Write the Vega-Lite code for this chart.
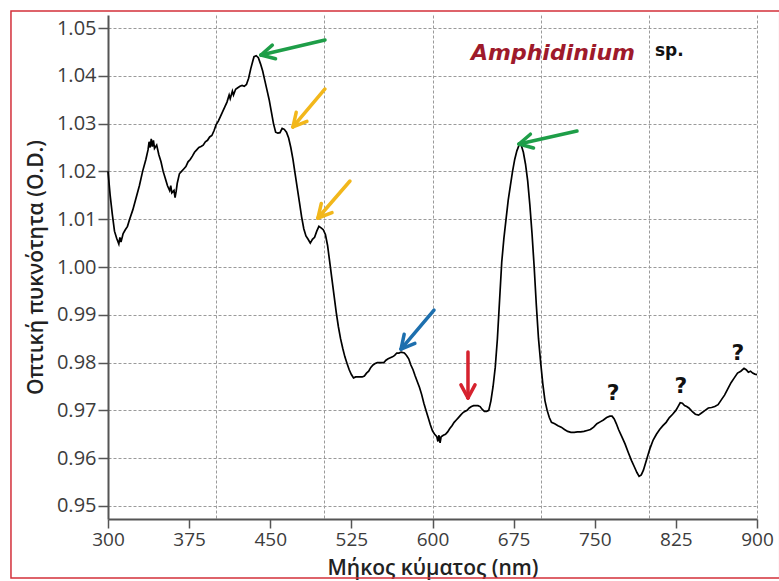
{
  "$schema": "https://vega.github.io/schema/vega-lite/v6.json",
  "width": 649,
  "height": 504,
  "autosize": {"type": "none"},
  "padding": {"left": 108, "top": 15, "right": 22, "bottom": 62},
  "background": "white",
  "config": {
    "view": {"stroke": null},
    "axis": {
      "labelFont": "Open Sans",
      "labelFontSize": 20,
      "labelColor": "#3c3c3c",
      "labelFlush": false,
      "labelOverlap": false,
      "titleFont": "Open Sans",
      "titleFontWeight": 600,
      "titleColor": "#222222",
      "tickColor": "#555555",
      "domainColor": "#555555",
      "domainWidth": 2,
      "tickWidth": 1.5,
      "tickSize": 9,
      "gridColor": "#9a9a9a",
      "gridDash": [3, 2],
      "gridWidth": 1
    }
  },
  "datasets": {
    "curve": [
      {"nm":300,"od":1.0200},{"nm":302,"od":1.0150},{"nm":304,"od":1.0110},{"nm":306,"od":1.0075},{"nm":308,"od":1.0060},{"nm":310,"od":1.0048},{"nm":311,"od":1.0062},{"nm":312,"od":1.0052},{"nm":314,"od":1.0070},{"nm":316,"od":1.0078},{"nm":318,"od":1.0085},{"nm":320,"od":1.0100},{"nm":323,"od":1.0120},{"nm":326,"od":1.0145},{"nm":329,"od":1.0170},{"nm":332,"od":1.0200},{"nm":335,"od":1.0225},{"nm":337,"od":1.0245},{"nm":338,"od":1.0262},{"nm":339,"od":1.0250},{"nm":340,"od":1.0268},{"nm":341,"od":1.0252},{"nm":342,"od":1.0265},{"nm":343,"od":1.0248},{"nm":345,"od":1.0255},{"nm":347,"od":1.0235},{"nm":349,"od":1.0220},{"nm":351,"od":1.0200},{"nm":353,"od":1.0185},{"nm":355,"od":1.0170},{"nm":357,"od":1.0160},{"nm":358,"od":1.0170},{"nm":359,"od":1.0155},{"nm":361,"od":1.0160},{"nm":362,"od":1.0145},{"nm":363,"od":1.0158},{"nm":364,"od":1.0175},{"nm":366,"od":1.0195},{"nm":368,"od":1.0200},{"nm":370,"od":1.0205},{"nm":372,"od":1.0210},{"nm":374,"od":1.0220},{"nm":376,"od":1.0225},{"nm":378,"od":1.0232},{"nm":380,"od":1.0240},{"nm":382,"od":1.0245},{"nm":384,"od":1.0250},{"nm":386,"od":1.0252},{"nm":388,"od":1.0255},{"nm":390,"od":1.0262},{"nm":392,"od":1.0265},{"nm":394,"od":1.0272},{"nm":396,"od":1.0275},{"nm":398,"od":1.0285},{"nm":400,"od":1.0298},{"nm":402,"od":1.0305},{"nm":404,"od":1.0315},{"nm":406,"od":1.0325},{"nm":408,"od":1.0335},{"nm":410,"od":1.0345},{"nm":412,"od":1.0360},{"nm":413,"od":1.0352},{"nm":415,"od":1.0368},{"nm":416,"od":1.0360},{"nm":418,"od":1.0372},{"nm":420,"od":1.0375},{"nm":422,"od":1.0378},{"nm":424,"od":1.0380},{"nm":426,"od":1.0378},{"nm":428,"od":1.0382},{"nm":430,"od":1.0395},{"nm":432,"od":1.0415},{"nm":434,"od":1.0432},{"nm":435,"od":1.0440},{"nm":437,"od":1.0442},{"nm":439,"od":1.0438},{"nm":441,"od":1.0425},{"nm":443,"od":1.0410},{"nm":445,"od":1.0390},{"nm":447,"od":1.0370},{"nm":449,"od":1.0350},{"nm":451,"od":1.0325},{"nm":453,"od":1.0300},{"nm":455,"od":1.0282},{"nm":457,"od":1.0280},{"nm":459,"od":1.0281},{"nm":461,"od":1.0290},{"nm":463,"od":1.0288},{"nm":465,"od":1.0282},{"nm":467,"od":1.0270},{"nm":469,"od":1.0250},{"nm":471,"od":1.0225},{"nm":473,"od":1.0195},{"nm":475,"od":1.0165},{"nm":477,"od":1.0135},{"nm":479,"od":1.0105},{"nm":481,"od":1.0080},{"nm":483,"od":1.0065},{"nm":485,"od":1.0058},{"nm":487,"od":1.0050},{"nm":489,"od":1.0058},{"nm":491,"od":1.0062},{"nm":493,"od":1.0075},{"nm":495,"od":1.0085},{"nm":497,"od":1.0082},{"nm":499,"od":1.0078},{"nm":501,"od":1.0068},{"nm":503,"od":1.0045},{"nm":505,"od":1.0010},{"nm":507,"od":0.9975},{"nm":509,"od":0.9940},{"nm":511,"od":0.9905},{"nm":513,"od":0.9875},{"nm":515,"od":0.9850},{"nm":517,"od":0.9830},{"nm":519,"od":0.9812},{"nm":521,"od":0.9798},{"nm":523,"od":0.9785},{"nm":525,"od":0.9775},{"nm":527,"od":0.9768},{"nm":529,"od":0.9770},{"nm":531,"od":0.9770},{"nm":533,"od":0.9770},{"nm":535,"od":0.9770},{"nm":537,"od":0.9772},{"nm":539,"od":0.9778},{"nm":541,"od":0.9782},{"nm":543,"od":0.9790},{"nm":545,"od":0.9795},{"nm":547,"od":0.9798},{"nm":549,"od":0.9800},{"nm":552,"od":0.9800},{"nm":555,"od":0.9800},{"nm":557,"od":0.9805},{"nm":559,"od":0.9808},{"nm":561,"od":0.9810},{"nm":563,"od":0.9812},{"nm":565,"od":0.9815},{"nm":567,"od":0.9820},{"nm":569,"od":0.9820},{"nm":571,"od":0.9822},{"nm":574,"od":0.9820},{"nm":576,"od":0.9815},{"nm":578,"od":0.9808},{"nm":580,"od":0.9795},{"nm":582,"od":0.9785},{"nm":584,"od":0.9772},{"nm":586,"od":0.9760},{"nm":588,"od":0.9748},{"nm":590,"od":0.9733},{"nm":592,"od":0.9715},{"nm":594,"od":0.9700},{"nm":596,"od":0.9685},{"nm":598,"od":0.9670},{"nm":600,"od":0.9657},{"nm":602,"od":0.9650},{"nm":604,"od":0.9645},{"nm":605,"od":0.9635},{"nm":606,"od":0.9648},{"nm":607,"od":0.9632},{"nm":608,"od":0.9645},{"nm":610,"od":0.9648},{"nm":612,"od":0.9650},{"nm":614,"od":0.9655},{"nm":616,"od":0.9662},{"nm":618,"od":0.9668},{"nm":620,"od":0.9675},{"nm":622,"od":0.9680},{"nm":624,"od":0.9685},{"nm":626,"od":0.9690},{"nm":628,"od":0.9695},{"nm":630,"od":0.9698},{"nm":632,"od":0.9700},{"nm":634,"od":0.9705},{"nm":636,"od":0.9708},{"nm":638,"od":0.9710},{"nm":640,"od":0.9710},{"nm":642,"od":0.9710},{"nm":644,"od":0.9708},{"nm":646,"od":0.9702},{"nm":648,"od":0.9698},{"nm":650,"od":0.9698},{"nm":652,"od":0.9700},{"nm":654,"od":0.9720},{"nm":656,"od":0.9750},{"nm":658,"od":0.9790},{"nm":660,"od":0.9850},{"nm":662,"od":0.9930},{"nm":664,"od":1.0010},{"nm":666,"od":1.0060},{"nm":668,"od":1.0100},{"nm":670,"od":1.0140},{"nm":672,"od":1.0170},{"nm":674,"od":1.0200},{"nm":676,"od":1.0225},{"nm":678,"od":1.0243},{"nm":680,"od":1.0255},{"nm":681,"od":1.0258},{"nm":682,"od":1.0255},{"nm":684,"od":1.0240},{"nm":686,"od":1.0215},{"nm":688,"od":1.0180},{"nm":690,"od":1.0130},{"nm":692,"od":1.0070},{"nm":694,"od":1.0000},{"nm":696,"od":0.9920},{"nm":698,"od":0.9850},{"nm":700,"od":0.9800},{"nm":702,"od":0.9755},{"nm":704,"od":0.9720},{"nm":706,"od":0.9700},{"nm":708,"od":0.9685},{"nm":710,"od":0.9675},{"nm":713,"od":0.9672},{"nm":716,"od":0.9668},{"nm":719,"od":0.9665},{"nm":722,"od":0.9660},{"nm":725,"od":0.9656},{"nm":728,"od":0.9654},{"nm":731,"od":0.9654},{"nm":734,"od":0.9655},{"nm":737,"od":0.9655},{"nm":740,"od":0.9656},{"nm":743,"od":0.9658},{"nm":746,"od":0.9660},{"nm":749,"od":0.9665},{"nm":752,"od":0.9672},{"nm":755,"od":0.9676},{"nm":758,"od":0.9680},{"nm":761,"od":0.9685},{"nm":764,"od":0.9688},{"nm":766,"od":0.9688},{"nm":768,"od":0.9682},{"nm":770,"od":0.9672},{"nm":772,"od":0.9660},{"nm":775,"od":0.9645},{"nm":778,"od":0.9630},{"nm":781,"od":0.9612},{"nm":784,"od":0.9595},{"nm":787,"od":0.9580},{"nm":789,"od":0.9570},{"nm":791,"od":0.9562},{"nm":793,"od":0.9565},{"nm":795,"od":0.9575},{"nm":797,"od":0.9590},{"nm":799,"od":0.9605},{"nm":801,"od":0.9620},{"nm":804,"od":0.9638},{"nm":807,"od":0.9650},{"nm":810,"od":0.9660},{"nm":813,"od":0.9668},{"nm":816,"od":0.9675},{"nm":819,"od":0.9685},{"nm":822,"od":0.9692},{"nm":825,"od":0.9700},{"nm":827,"od":0.9708},{"nm":829,"od":0.9716},{"nm":831,"od":0.9715},{"nm":833,"od":0.9710},{"nm":835,"od":0.9708},{"nm":837,"od":0.9705},{"nm":840,"od":0.9698},{"nm":843,"od":0.9692},{"nm":846,"od":0.9690},{"nm":849,"od":0.9695},{"nm":852,"od":0.9700},{"nm":855,"od":0.9705},{"nm":858,"od":0.9706},{"nm":861,"od":0.9708},{"nm":864,"od":0.9712},{"nm":867,"od":0.9722},{"nm":870,"od":0.9732},{"nm":873,"od":0.9745},{"nm":876,"od":0.9758},{"nm":879,"od":0.9768},{"nm":882,"od":0.9778},{"nm":885,"od":0.9782},{"nm":888,"od":0.9788},{"nm":890,"od":0.9785},{"nm":892,"od":0.9780},{"nm":894,"od":0.9782},{"nm":896,"od":0.9778},{"nm":898,"od":0.9776},{"nm":900,"od":0.9775}
    ],
    "arrows": [
      {"c":"green","xa":500.6,"ya":1.04749,"xb":441.4,"yb":1.04435},
      {"c":"green","xa":441.4,"ya":1.04435,"xb":454.9,"yb":1.04356},
      {"c":"green","xa":441.4,"ya":1.04435,"xb":451.9,"yb":1.04642},
      {"c":"yellow","xa":500.6,"ya":1.03724,"xb":471.0,"yb":1.02929},
      {"c":"yellow","xa":471.0,"ya":1.02929,"xb":483.9,"yb":1.03046},
      {"c":"yellow","xa":471.0,"ya":1.02929,"xb":474.0,"yb":1.03236},
      {"c":"yellow","xa":523.7,"ya":1.01799,"xb":494.1,"yb":1.01025},
      {"c":"yellow","xa":494.1,"ya":1.01025,"xb":507.1,"yb":1.01138},
      {"c":"yellow","xa":494.1,"ya":1.01025,"xb":497.2,"yb":1.01330},
      {"c":"blue","xa":601.4,"ya":0.99100,"xb":570.9,"yb":0.98284},
      {"c":"blue","xa":570.9,"ya":0.98284,"xb":583.7,"yb":0.98401},
      {"c":"blue","xa":570.9,"ya":0.98284,"xb":573.8,"yb":0.98592},
      {"c":"red","xa":632.8,"ya":0.98222,"xb":632.8,"yb":0.97259},
      {"c":"red","xa":632.8,"ya":0.97259,"xb":639.3,"yb":0.97535},
      {"c":"red","xa":632.8,"ya":0.97259,"xb":626.3,"yb":0.97535},
      {"c":"green","xa":733.6,"ya":1.02845,"xb":680.0,"yb":1.02573},
      {"c":"green","xa":680.0,"ya":1.02573,"xb":693.4,"yb":1.02489},
      {"c":"green","xa":680.0,"ya":1.02573,"xb":690.5,"yb":1.02778}
    ],
    "questions": [
      {"t":"?","nm":766.9,"od":0.97364},
      {"t":"?","nm":829.7,"od":0.97510},
      {"t":"?","nm":882.4,"od":0.98201}
    ],
    "species": [{"t":"Amphidinium","nm":711.4,"od":1.04477}],
    "suffix": [{"t":"sp.","nm":805.7,"od":1.0452}],
    "frame": [{"xa":210.3,"xb":921,"ya":1.05356,"yb":0.93494}]
  },
  "resolve": {"axis": {"x": "independent", "y": "independent"}},
  "layer": [
    {
      "data": {"name": "curve"},
      "mark": {"type": "line", "color": "#000000", "strokeWidth": 1.7},
      "encoding": {
        "x": {
          "field": "nm", "type": "quantitative",
          "scale": {"domain": [300, 900], "nice": false, "zero": false},
          "axis": {
            "values": [300, 375, 450, 525, 600, 675, 750, 825, 900],
            "grid": false,
            "labelFontSize": 19,
            "labelPadding": 2,
            "title": "Μήκος κύματος (nm)",
            "titleFontSize": 21,
            "titlePadding": 8
          }
        },
        "y": {
          "field": "od", "type": "quantitative",
          "scale": {"domain": [0.94728, 1.05272], "nice": false, "zero": false},
          "axis": {
            "values": [0.95, 0.96, 0.97, 0.98, 0.99, 1.0, 1.01, 1.02, 1.03, 1.04, 1.05],
            "format": ".2f",
            "grid": true,
            "tickSize": 10,
            "labelPadding": 2,
            "title": "Οπτική πυκνότητα (O.D.)",
            "titleFontSize": 21,
            "titlePadding": 10
          }
        }
      }
    },
    {
      "data": {"name": "arrows"},
      "mark": {"type": "rule", "strokeWidth": 3.5, "strokeCap": "round"},
      "encoding": {
        "x": {
          "field": "xa", "type": "quantitative",
          "axis": {
            "orient": "bottom",
            "values": [400, 500, 600, 700, 800, 900],
            "grid": true, "labels": false, "ticks": false, "domain": false, "title": null
          }
        },
        "x2": {"field": "xb"},
        "y": {"field": "ya", "type": "quantitative", "axis": null},
        "y2": {"field": "yb"},
        "color": {
          "field": "c", "type": "nominal", "legend": null,
          "scale": {"domain": ["green", "yellow", "blue", "red"], "range": ["#1e9e48", "#f2b71b", "#1d6fae", "#d6222e"]}
        }
      }
    },
    {
      "data": {"name": "questions"},
      "mark": {"type": "text", "font": "DejaVu Sans", "fontWeight": "bold", "fontSize": 22, "color": "#111111", "baseline": "middle", "align": "center"},
      "encoding": {
        "x": {"field": "nm", "type": "quantitative", "axis": null},
        "y": {"field": "od", "type": "quantitative", "axis": null},
        "text": {"field": "t"}
      }
    },
    {
      "data": {"name": "species"},
      "mark": {"type": "text", "font": "DejaVu Sans", "fontWeight": "bold", "fontStyle": "italic", "fontSize": 22, "color": "#9e1a2b", "baseline": "middle", "align": "center"},
      "encoding": {
        "x": {"field": "nm", "type": "quantitative", "axis": null},
        "y": {"field": "od", "type": "quantitative", "axis": null},
        "text": {"field": "t"}
      }
    },
    {
      "data": {"name": "suffix"},
      "mark": {"type": "text", "font": "DejaVu Sans", "fontWeight": "bold", "fontSize": 17, "color": "#111111", "baseline": "middle", "align": "left"},
      "encoding": {
        "x": {"field": "nm", "type": "quantitative", "axis": null},
        "y": {"field": "od", "type": "quantitative", "axis": null},
        "text": {"field": "t"}
      }
    },
    {
      "data": {"name": "frame"},
      "mark": {"type": "rect", "filled": false, "stroke": "#d3303a", "strokeWidth": 1.5, "clip": false},
      "encoding": {
        "x": {"field": "xa", "type": "quantitative", "axis": null},
        "x2": {"field": "xb"},
        "y": {"field": "ya", "type": "quantitative", "axis": null},
        "y2": {"field": "yb"}
      }
    }
  ]
}
